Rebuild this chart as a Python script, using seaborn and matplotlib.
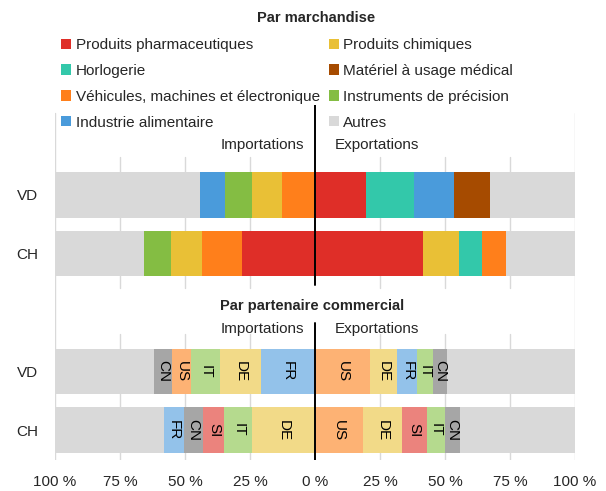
import pandas as pd
import matplotlib.pyplot as plt
import seaborn as sns
from matplotlib.patches import Patch

# Rangées de l'axe (la position 2 reste vide entre les deux panneaux)
rangees = ["VD", "CH", "VD", "CH"]
positions = [0, 1, 3, 4]

# Par marchandise : parts en %, du centre vers l'extérieur
vd_imp_march = ["Véhicules, machines et électronique", "Produits chimiques",
                "Instruments de précision", "Industrie alimentaire"]
vd_imp_march_pct = [12.8, 11.4, 10.3, 9.6]
vd_exp_march = ["Produits pharmaceutiques", "Horlogerie",
                "Industrie alimentaire", "Matériel à usage médical"]
vd_exp_march_pct = [19.8, 18.4, 15.4, 13.8]
ch_imp_march = ["Produits pharmaceutiques", "Véhicules, machines et électronique",
                "Produits chimiques", "Instruments de précision"]
ch_imp_march_pct = [28.2, 15.3, 11.8, 10.5]
ch_exp_march = ["Produits pharmaceutiques", "Produits chimiques",
                "Horlogerie", "Véhicules, machines et électronique"]
ch_exp_march_pct = [41.7, 13.5, 9.2, 9.2]

# Par partenaire commercial
vd_imp_pays = ["FR", "DE", "IT", "US", "CN"]
vd_imp_pays_pct = [20.6, 15.8, 11.1, 7.6, 6.7]
vd_exp_pays = ["US", "DE", "FR", "IT", "CN"]
vd_exp_pays_pct = [21.2, 10.5, 7.6, 6.1, 5.2]
ch_imp_pays = ["DE", "IT", "SI", "CN", "FR"]
ch_imp_pays_pct = [24.2, 10.7, 8.0, 7.6, 7.6]
ch_exp_pays = ["US", "DE", "SI", "IT", "CN"]
ch_exp_pays_pct = [18.6, 14.7, 9.6, 7.2, 5.5]

legende = ["Produits pharmaceutiques", "Horlogerie",
           "Véhicules, machines et électronique", "Industrie alimentaire",
           "Produits chimiques", "Matériel à usage médical",
           "Instruments de précision", "Autres"]

couleurs = {
    "Produits pharmaceutiques": "#DF2E28",
    "Produits chimiques": "#E9C036",
    "Horlogerie": "#33C8AA",
    "Matériel à usage médical": "#A64B00",
    "Véhicules, machines et électronique": "#FF7F1B",
    "Instruments de précision": "#84BD43",
    "Industrie alimentaire": "#4A9BDB",
    "Autres": "#D9D9D9",
    "CN": "#A6A6A6",
    "US": "#FDB274",
    "IT": "#B5DA8E",
    "DE": "#F2DA88",
    "FR": "#93C2EA",
    "SI": "#EB837D",
}

series = [
    (0, -1, vd_imp_march, vd_imp_march_pct), (0, 1, vd_exp_march, vd_exp_march_pct),
    (1, -1, ch_imp_march, ch_imp_march_pct), (1, 1, ch_exp_march, ch_exp_march_pct),
    (3, -1, vd_imp_pays, vd_imp_pays_pct), (3, 1, vd_exp_pays, vd_exp_pays_pct),
    (4, -1, ch_imp_pays, ch_imp_pays_pct), (4, 1, ch_exp_pays, ch_exp_pays_pct),
]

lignes = []
for rang, sens, cats, pcts in series:
    cumul = 0
    for niveau, (cat, pct) in enumerate(zip(cats, pcts)):
        lignes.append(dict(rang=rang, sens=sens, niveau=niveau, categorie=cat,
                           debut=sens * cumul, fin=sens * (cumul + pct)))
        cumul += pct
    lignes.append(dict(rang=rang, sens=sens, niveau=len(cats), categorie="Autres",
                       debut=sens * cumul, fin=sens * 100))
df = pd.DataFrame(lignes)

sns.set_style("white")
plt.rcParams["font.family"] = ["Liberation Sans", "DejaVu Sans"]
taille = 11

fig = plt.figure(figsize=(6.06, 4.91), dpi=100)
ax = fig.add_axes([55 / 606, 1 - 459.5 / 491, 520 / 606, 354.5 / 491])

# Grille verticale, interrompue sous les titres
grille = "#D9D9D9"
for x in [-75, -50, -25, 25, 50, 75]:
    ax.axvline(x, 0, 0.354, color=grille, lw=1, zorder=0)
    ax.axvline(x, 0.484, 0.853, color=grille, lw=1, zorder=0)
for x in [-100, 100]:
    ax.axvline(x, 0, 0.977, color=grille, lw=1, zorder=0)

# Barres empilées : on dessine de l'extérieur vers le centre
for sens in [-1, 1]:
    for niveau in sorted(df["niveau"].unique(), reverse=True):
        sub = df[(df["sens"] == sens) & (df["niveau"] == niveau)]
        for cat, grp in sub.groupby("categorie"):
            sns.barplot(data=grp, x="fin", y="rang", color=couleurs[cat],
                        orient="h", native_scale=True, width=0.77, saturation=1,
                        errorbar=None, linewidth=0, ax=ax)

# Codes pays dans les segments
pays = df[(df["rang"] >= 3) & (df["categorie"] != "Autres")]
for _, r in pays.iterrows():
    ax.text((r["debut"] + r["fin"]) / 2, r["rang"], r["categorie"], rotation=270,
            ha="center", va="center", fontsize=taille, color="black", zorder=4)

# Axe central
ax.axvline(0, 0, 0.385, color="black", lw=1.4, zorder=5)
ax.axvline(0, 0.492, 1, color="black", lw=1.4, zorder=5)

ax.set_xlim(-100, 100)
ax.set_ylim(4.5, -1.53)
ax.set_yticks(positions)
ax.set_yticklabels(rangees, fontsize=taille)
ticks = list(range(-100, 101, 25))
ax.set_xticks(ticks)
ax.set_xticklabels([f"{abs(t)} %" for t in ticks], fontsize=taille)
ax.tick_params(axis="y", length=0, pad=12)
ax.tick_params(axis="x", length=0, pad=11)
ax.set_xlabel("")
ax.set_ylabel("")
sns.despine(ax=ax, left=True, bottom=True)

# Titres et libellés
fig.text(316 / 606, 1 - 18 / 491, "Par marchandise", ha="center", va="center",
         fontsize=10.5, fontweight="bold")
fig.text(312 / 606, 1 - 306 / 491, "Par partenaire commercial", ha="center",
         va="center", fontsize=10.5, fontweight="bold")
for y in [145, 329]:
    fig.text(304 / 606, 1 - y / 491, "Importations", ha="right", va="center", fontsize=taille)
    fig.text(335 / 606, 1 - y / 491, "Exportations", ha="left", va="center", fontsize=taille)

handles = [Patch(facecolor=couleurs[c], edgecolor="none") for c in legende]
fig.legend(handles, legende, ncol=2, loc="upper left",
           bbox_to_anchor=(61 / 606, 1 - 38 / 491), frameon=False, fontsize=taille,
           handlelength=0.65, handleheight=0.65, handletextpad=0.3,
           columnspacing=0.6, labelspacing=0.78, borderpad=0, borderaxespad=0)

fig.savefig("out.png", dpi=100)
